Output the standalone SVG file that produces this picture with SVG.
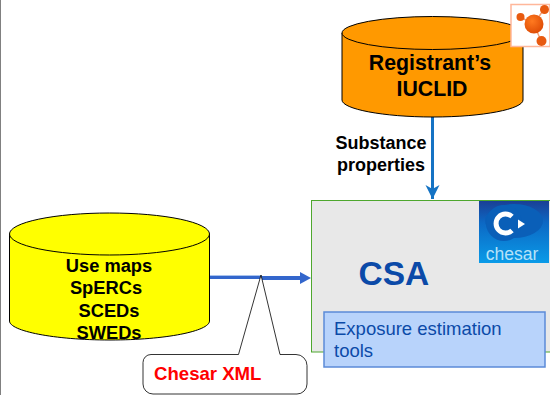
<svg xmlns="http://www.w3.org/2000/svg" width="550" height="395" viewBox="0 0 550 395">
<defs>
<style>
text{font-family:"Liberation Sans",Arial,sans-serif}
.b{font-weight:bold;text-anchor:middle;fill:#000}
.db{stroke:#000;stroke-width:1}
</style>
<linearGradient id="chesarBg" x1="0" y1="0" x2="0" y2="1"><stop offset="0" stop-color="#1a3f95"/><stop offset="0.35" stop-color="#0c68c4"/><stop offset="1" stop-color="#0a9be8"/></linearGradient>
<radialGradient id="ball" cx="0.4" cy="0.35" r="0.7"><stop offset="0" stop-color="#ff7a20"/><stop offset="1" stop-color="#dd4a04"/></radialGradient>
<marker id="a1" markerUnits="userSpaceOnUse" markerWidth="16" markerHeight="16" refX="14" refY="7" orient="auto"><path d="M0 0L14 7L0 14L4 7Z" fill="#1573c4"/></marker>
</defs>
<rect x="0" y="0" width="550" height="395" fill="#fff"/>
<rect x="0" y="0" width="1" height="395" fill="#808080"/>

<g id="connectors">
<path d="M432.500 117V199" fill="none" stroke="#1573c4" stroke-width="3" marker-end="url(#a1)"/>
<path d="M210 276H262" fill="none" stroke="#a9c3ee" stroke-width="2"/>
<path d="M210 277.500H262" fill="none" stroke="#3366cc" stroke-width="3"/>
<path d="M262 278H300" fill="none" stroke="#3366cc" stroke-width="4"/>
<path d="M300 272L311 278L300 284Z" fill="#3366cc"/>
</g>

<g id="iuclid">
<path class="db" d="M342 33V100C342 109 383 117 433 117S523 109 523 100V33Z" fill="#ff9900"/>
<ellipse class="db" cx="432.500" cy="33" rx="90.500" ry="16.500" fill="#ff9900"/>
<text class="b" font-size="21.300" x="430" y="70">Registrant’s</text>
<text class="b" font-size="21.300" x="432" y="96">IUCLID</text>
</g>

<g id="iuclid-logo">
<rect x="511" y="4.500" width="39" height="42" fill="#fff" stroke="#ffb79a" stroke-width="1.500"/>
<path d="M534 24L544 9M534 24L520 17M534 24L541 41" stroke="#f3a27a" stroke-width="1.500"/>
<circle cx="534" cy="24" r="9.500" fill="url(#ball)"/>
<circle cx="520.500" cy="17" r="4" fill="#e85a10"/>
<circle cx="544.500" cy="9.500" r="4.500" fill="#e85a10"/>
<circle cx="541.500" cy="41" r="5" fill="#e85a10"/>
</g>

<g id="substance-label">
<text class="b" font-size="18" x="381" y="149">Substance</text>
<text class="b" font-size="18" x="381" y="171">properties</text>
</g>

<g id="csa">
<rect x="311.500" y="200.500" width="250" height="151.500" fill="#e8e8e8" stroke="#4ea72e" stroke-width="1"/>
<text x="358.500" y="285" font-size="33.500" font-weight="bold" fill="#0b4aa8">CSA</text>
</g>

<g id="chesar-logo">
<rect x="479" y="201" width="70" height="62" fill="url(#chesarBg)"/>
<ellipse cx="514" cy="221" rx="29" ry="17" fill="#0a5fb8"/>
<ellipse cx="504" cy="223" rx="18" ry="18" fill="#0a5fb8"/>
<path d="M512 216.500A9.500 9.500 0 1 0 512 230.500" fill="none" stroke="#fff" stroke-width="5"/>
<path d="M518 219.500L525 224L518 228.500Z" fill="#fff"/>
<text x="512" y="260" font-size="17.500" text-anchor="middle" fill="#b5e2f8">chesar</text>
</g>

<g id="tools">
<rect x="324" y="312" width="221" height="55" fill="#b8d3fb" stroke="#5b8ad8" stroke-width="1.500"/>
<text x="334" y="335" font-size="18.500" fill="#0b4aa8">Exposure estimation</text>
<text x="334" y="357" font-size="18.500" fill="#0b4aa8">tools</text>
</g>

<g id="usemaps">
<path class="db" d="M9.500 234V321C9.500 331 54 340 110 340S209.500 331 209.500 321V234Z" fill="#ffff00"/>
<ellipse class="db" cx="109.500" cy="234" rx="100" ry="21" fill="#ffff00"/>
<text class="b" font-size="18.300" x="109" y="272">Use maps</text>
<text class="b" font-size="18.300" x="106" y="294">SpERCs</text>
<text class="b" font-size="18.300" x="109" y="317">SCEDs</text>
<text class="b" font-size="18.300" x="109" y="339">SWEDs</text>
</g>

<g id="chesar-xml">
<path d="M151 354.500H238.500L261 275L280 354.500H296A11 11 0 0 1 307 365.500V384A10 10 0 0 1 297 394H153A10 10 0 0 1 143 384V362.500A8 8 0 0 1 151 354.500Z" fill="#fff" stroke="#000" stroke-width="0.800"/>
<text x="154" y="380" font-size="18.600" font-weight="bold" fill="#ff0000">Chesar XML</text>
</g>
</svg>
